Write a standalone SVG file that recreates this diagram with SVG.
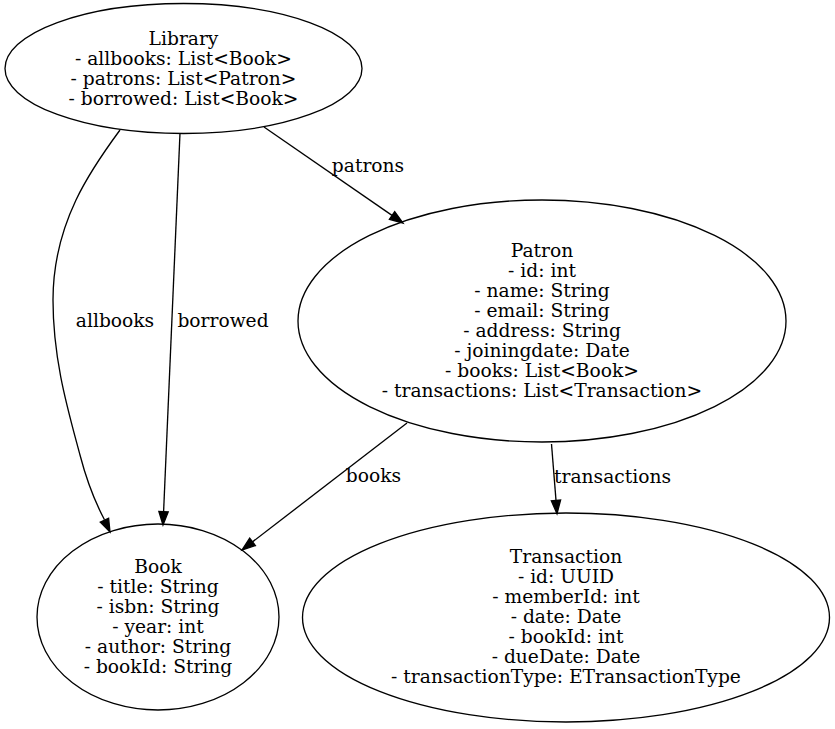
<svg xmlns="http://www.w3.org/2000/svg" width="835" height="729" viewBox="0 0 835 729">
<style>
  .node ellipse { fill: none; stroke: #000; stroke-width: 1.33; }
  text { font-family: "DejaVu Serif", "Liberation Serif", serif; font-size: 18.67px; fill: #000; text-anchor: middle; }
  .edge path { fill: none; stroke: #000; stroke-width: 1.33; }
  .edge polygon { fill: #000; stroke: #000; stroke-width: 1.33; }
</style>
<rect width="835" height="729" fill="#fff"/>
<g id="connectors">
  <g class="edge" id="e-allbooks">
    <path d="M120,130 C92,168 53,222 53,300 C53,360 68,410 80,455 C86,478 94,500 104.5,519.8"/>
    <polygon points="100.2,522.1 110,532 108.6,518.2"/>
    <text x="115" y="327">allbooks</text>
  </g>
  <g class="edge" id="e-borrowed">
    <path d="M180,133 L163.6,511.7"/>
    <polygon points="158.9,511.5 163,525 168.2,511.9"/>
    <text x="223" y="327">borrowed</text>
  </g>
  <g class="edge" id="e-patrons">
    <path d="M264,127 L392,215.4"/>
    <polygon points="389.4,219.3 403,223 394.7,211.6"/>
    <text x="368" y="172">patrons</text>
  </g>
  <g class="edge" id="e-books">
    <path d="M407,423 L252.5,541.9"/>
    <polygon points="249.7,538.2 242,550 255.4,545.6"/>
    <text x="373.5" y="482">books</text>
  </g>
  <g class="edge" id="e-transactions">
    <path d="M551.5,444 L556,500.4"/>
    <polygon points="551.3,500.8 557,513.7 560.6,500"/>
    <text x="612.5" y="483">transactions</text>
  </g>
</g>
<g class="node" id="library">
  <ellipse cx="183.5" cy="68.5" rx="178.5" ry="65"/>
  <text x="183.5" y="44.5">Library</text>
  <text x="183.5" y="64.5">- allbooks: List&lt;Book&gt;</text>
  <text x="183.5" y="84.5">- patrons: List&lt;Patron&gt;</text>
  <text x="183.5" y="104.5">- borrowed: List&lt;Book&gt;</text>
</g>
<g class="node" id="patron">
  <ellipse cx="542" cy="321" rx="244" ry="121"/>
  <text x="542" y="257">Patron</text>
  <text x="542" y="277">- id: int</text>
  <text x="542" y="297">- name: String</text>
  <text x="542" y="317">- email: String</text>
  <text x="542" y="337">- address: String</text>
  <text x="542" y="357">- joiningdate: Date</text>
  <text x="542" y="377">- books: List&lt;Book&gt;</text>
  <text x="542" y="397">- transactions: List&lt;Transaction&gt;</text>
</g>
<g class="node" id="book">
  <ellipse cx="158" cy="617" rx="121" ry="93"/>
  <text x="158" y="573">Book</text>
  <text x="158" y="593">- title: String</text>
  <text x="158" y="613">- isbn: String</text>
  <text x="158" y="633">- year: int</text>
  <text x="158" y="653">- author: String</text>
  <text x="158" y="673">- bookId: String</text>
</g>
<g class="node" id="transaction">
  <ellipse cx="566" cy="617.5" rx="263.5" ry="104.5"/>
  <text x="566" y="563">Transaction</text>
  <text x="566" y="583">- id: UUID</text>
  <text x="566" y="603">- memberId: int</text>
  <text x="566" y="623">- date: Date</text>
  <text x="566" y="643">- bookId: int</text>
  <text x="566" y="663">- dueDate: Date</text>
  <text x="566" y="683">- transactionType: ETransactionType</text>
</g>
</svg>
